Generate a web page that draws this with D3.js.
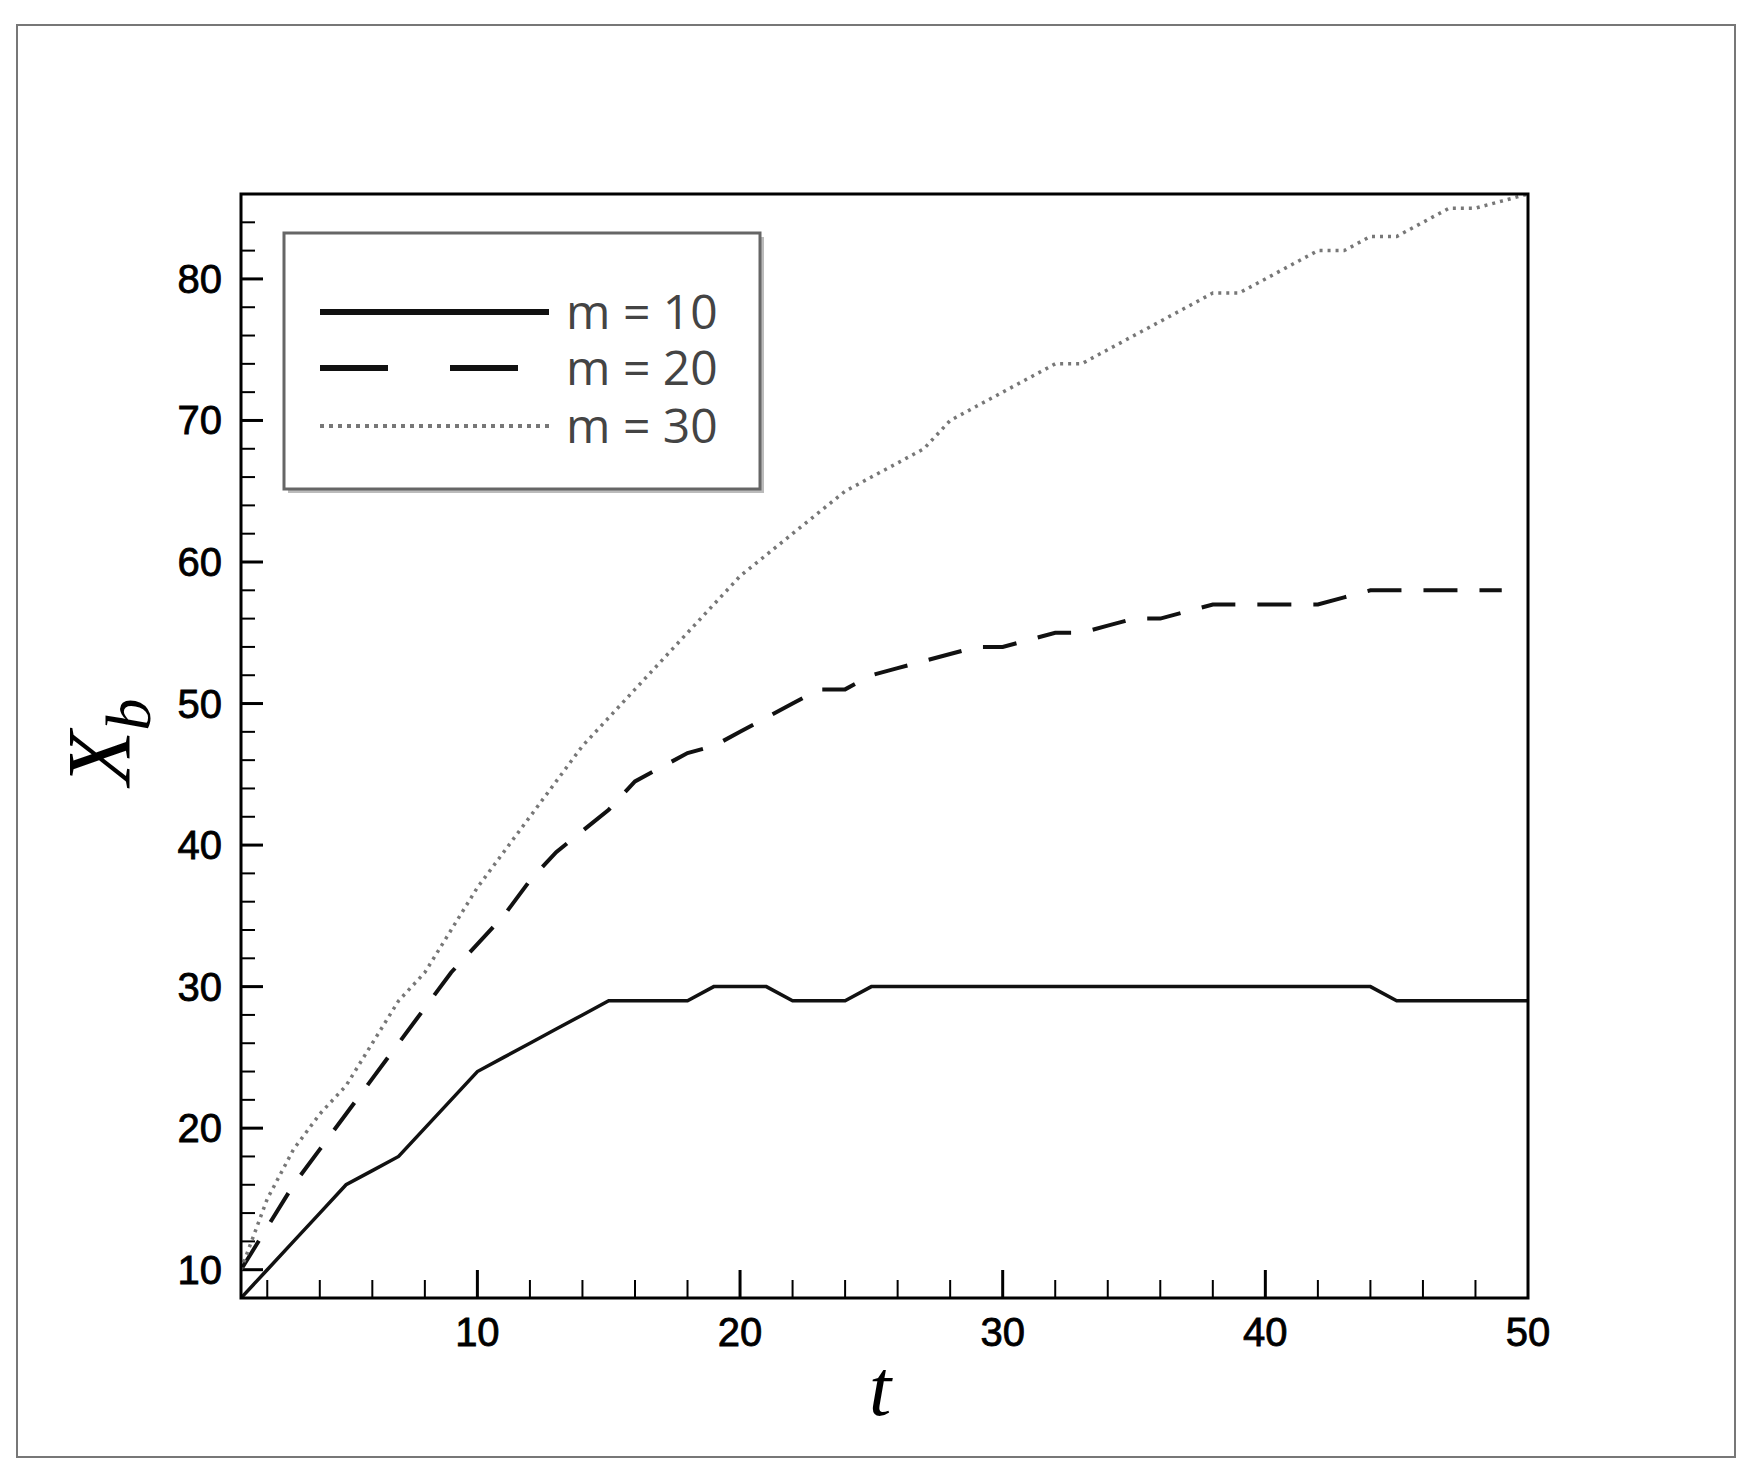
<!DOCTYPE html>
<html>
<head>
<meta charset="utf-8">
<style>
body { margin:0; background:#fff; }
</style>
<script src="https://cdnjs.cloudflare.com/ajax/libs/d3/7.8.5/d3.min.js"></script>
</head>
<body>
<script>
// data
var t = d3.range(1, 51);
var m10 = [8,10,12,14,16,17,18,20,22,24,25,26,27,28,29,29,29,29,30,30,30,29,29,29,30,30,30,30,30,30,30,30,30,30,30,30,30,30,30,30,30,30,30,30,29,29,29,29,29,29];
var m20 = [10,13,16,18.5,21,23.5,26,28.5,31,33,35,37.5,39.5,41,42.5,44.5,45.5,46.5,47,48,49,50,51,51,52,52.5,53,53.5,54,54,54.5,55,55,55.5,56,56,56.5,57,57,57,57,57,57.5,58,58,58,58,58,58];
var m30 = [10,15,18.5,21,23,26,29,31,34,37,39.5,42,44.5,47,49,51,53,55,57,59,60.5,62,63.5,65,66,67,68,70,71,72,73,74,74,75,76,77,78,79,79,80,81,82,82,83,83,84,85,85,85.5,86];
var yTicks = [10,20,30,40,50,60,70,80];
var xTicks = [10,20,30,40,50];
var legendLabels = ["m = 10", "m = 20", "m = 30"];

var W = 1757, H = 1477;
var svg = d3.select("body").append("svg").attr("width", W).attr("height", H);

// outer frame
svg.append("rect").attr("x", 17).attr("y", 25).attr("width", 1718).attr("height", 1432)
	.style("fill", "none").style("stroke", "#777").style("stroke-width", 2);

var L = 241, R = 1528, T = 194, B = 1298;
var x = d3.scaleLinear().domain([1, 50]).range([L, R]);
var y = d3.scaleLinear().domain([8, 86]).range([B, T]);

// ticks (inward, minor every 2)
var g = svg.append("g");
d3.range(2, 50, 2).forEach(function(v) {
	var major = v % 10 == 0;
	g.append("line").attr("x1", x(v)).attr("x2", x(v)).attr("y1", B).attr("y2", B - (major ? 28 : 18))
		.style("stroke", "#000").style("stroke-width", major ? 3 : 2);
});
d3.range(10, 86, 2).forEach(function(v) {
	var major = v % 10 == 0;
	g.append("line").attr("x1", L).attr("x2", L + (major ? 22 : 14)).attr("y1", y(v)).attr("y2", y(v))
		.style("stroke", "#000").style("stroke-width", major ? 3 : 2);
});
g.selectAll(".xl").data(xTicks).enter().append("text")
	.attr("x", function(d) { return x(d); }).attr("y", 1346)
	.attr("text-anchor", "middle")
	.style("font-family", "Liberation Sans, Arial, sans-serif").style("font-size", "40px")
	.style("stroke", "#000").style("stroke-width", 0.8)
	.text(function(d) { return d; });
g.selectAll(".yl").data(yTicks).enter().append("text")
	.attr("x", 222).attr("y", function(d) { return y(d) + 14; })
	.attr("text-anchor", "end")
	.style("font-family", "Liberation Sans, Arial, sans-serif").style("font-size", "40px")
	.style("stroke", "#000").style("stroke-width", 0.8)
	.text(function(d) { return d; });

// series
var line = d3.line().x(function(d) { return x(d[0]); }).y(function(d) { return y(d[1]); });
var series = [
	{ v: m10, dash: null, w: 3.5, c: "#111" },
	{ v: m20, dash: "34,22", w: 4, c: "#111" },
	{ v: m30, dash: "3,5", w: 3.5, c: "#777" }
];
svg.append("clipPath").attr("id", "c").append("rect")
	.attr("x", L).attr("y", T).attr("width", R - L).attr("height", B - T);
series.forEach(function(s) {
	svg.append("path")
		.attr("d", line(s.v.map(function(v, i) { return [t[i], v]; })))
		.attr("clip-path", "url(#c)")
		.style("fill", "none").style("stroke", s.c).style("stroke-width", s.w)
		.style("stroke-dasharray", s.dash);
});

// plot frame
svg.append("rect").attr("x", L).attr("y", T).attr("width", R - L).attr("height", B - T)
	.style("fill", "none").style("stroke", "#000").style("stroke-width", 3);

// legend
svg.append("rect").attr("x", 288).attr("y", 237).attr("width", 476).attr("height", 256).style("fill", "#bbb");
svg.append("rect").attr("x", 284).attr("y", 233).attr("width", 476).attr("height", 256)
	.style("fill", "#fff").style("stroke", "#666").style("stroke-width", 3);
var ly = [312, 368, 426];
series.forEach(function(s, i) {
	svg.append("line").attr("x1", 320).attr("x2", 549).attr("y1", ly[i]).attr("y2", ly[i])
		.style("stroke", s.c).style("stroke-width", i == 2 ? 4 : 6).style("stroke-dasharray", s.dash ? (i == 1 ? "68,62" : "4,5") : null);
	svg.append("text").attr("x", 566).attr("y", ly[i] + 17)
		.style("font-family", "Open Sans, sans-serif").style("font-size", "48px").style("fill", "#444")
		.text(legendLabels[i]);
});

// axis titles
svg.append("text").attr("x", 880).attr("y", 1415).attr("text-anchor", "middle")
	.style("font-family", "Liberation Serif, serif").style("font-style", "italic").style("font-size", "80px")
	.text("t");
var yt = svg.append("text").attr("transform", "translate(130,742) rotate(-90)").attr("text-anchor", "middle")
	.style("font-family", "Liberation Serif, serif").style("font-style", "italic").style("font-size", "90px");
yt.append("tspan").text("X");
yt.append("tspan").attr("dy", 20).style("font-size", "64px").text("b");
</script>
</body>
</html>
